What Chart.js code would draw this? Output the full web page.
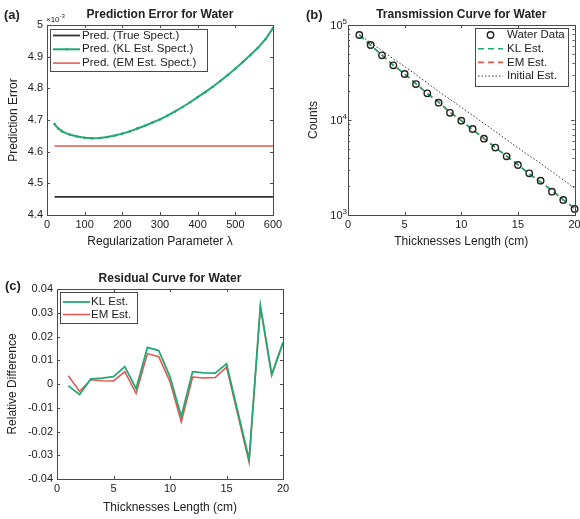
<!DOCTYPE html>
<html>
<head>
<meta charset="utf-8">
<title>Water spectrum estimation</title>
<script src="https://cdn.jsdelivr.net/npm/chart.js@4.4.1/dist/chart.umd.min.js"></script>
<style>
  html, body { margin: 0; padding: 0; background: #fff; }
  body { width: 580px; height: 519px; position: relative; overflow: hidden; }
  canvas { position: absolute; display: block; }
</style>
</head>
<body>
<canvas id="chart-a" width="290" height="260" style="left:0;top:0"></canvas>
<canvas id="chart-b" width="290" height="260" style="left:290px;top:0"></canvas>
<canvas id="chart-c" width="300" height="259" style="left:0;top:260px"></canvas>
<script>
// (a) prediction error (x10^-3) vs regularization parameter
const lambdaValues = [20, 30, 40, 60, 80, 100, 120, 140, 160, 180, 200, 220, 240, 260, 280, 300,
  320, 340, 360, 380, 400, 420, 440, 460, 480, 500, 520, 540, 560, 580, 600];
const predKL = [4.687, 4.673, 4.664, 4.654, 4.648, 4.644, 4.642, 4.643, 4.646, 4.651, 4.657, 4.664,
  4.673, 4.682, 4.692, 4.702, 4.714, 4.727, 4.741, 4.756, 4.772, 4.788, 4.805, 4.823, 4.842, 4.862,
  4.883, 4.905, 4.928, 4.955, 4.990];
const lambdaRange = [20, 600];
const predTrue = [4.457, 4.457];
const predEM = [4.618, 4.618];

// (b) transmission counts vs thickness
const thickness = [1, 2, 3, 4, 5, 6, 7, 8, 9, 10, 11, 12, 13, 14, 15, 16, 17, 18, 19, 20];
const waterData = [78500, 61600, 48000, 37600, 30500, 23900, 19100, 15200, 11900, 9840,
  8040, 6360, 5120, 4150, 3360, 2745, 2300, 1760, 1440, 1157];
const klEstimate = [78400, 61300, 48100, 37700, 30600, 24100, 19050, 15400, 12100, 9870,
  7930, 6390, 5140, 4170, 3390, 2710, 2230, 1820, 1445, 1180];
const emEstimate = [78800, 61400, 48100, 37650, 30540, 24020, 19020, 15390, 12040, 9850,
  7910, 6380, 5130, 4160, 3380, 2710, 2220, 1820, 1445, 1177];
const initialEstimate = [79000, 65000, 54000, 44000, 36500, 30000, 24500, 20000, 16500, 13600,
  11200, 9200, 7600, 6200, 5100, 4200, 3500, 2850, 2350, 1900];

// (c) relative difference between fit and data
const klResidual = [-0.0008, -0.0044, 0.0022, 0.0025, 0.0031, 0.0073, -0.0020, 0.0154, 0.0141, 0.0030,
  -0.0137, 0.0052, 0.0047, 0.0046, 0.0085, -0.0117, -0.0318, 0.0330, 0.0040, 0.0176];
const emResidual = [0.0035, -0.0031, 0.0018, 0.0014, 0.0013, 0.0052, -0.0040, 0.0128, 0.0115, 0.0010,
  -0.0160, 0.0029, 0.0025, 0.0027, 0.0071, -0.0130, -0.0330, 0.0325, 0.0036, 0.0172];

const GREEN = '#22a872';
const RED = '#e2544f';
const INK = '#222';
const AXIS = '#4a4a4a';
const FONT = '"Liberation Sans", Arial, Helvetica, sans-serif';

Chart.defaults.font.family = FONT;
Chart.defaults.color = INK;

const xy = (xs, ys) => xs.map((x, i) => ({ x, y: ys[i] }));

// draws "base" with a small raised exponent, right or left aligned at x
function drawPower(ctx, base, exp, x, y, size, align) {
  ctx.font = size + 'px ' + FONT;
  const bw = ctx.measureText(base).width;
  ctx.font = Math.round(size * 0.72) + 'px ' + FONT;
  const ew = ctx.measureText(exp).width;
  const left = align === 'right' ? x - bw - ew : x;
  ctx.textAlign = 'left';
  ctx.textBaseline = 'middle';
  ctx.font = size + 'px ' + FONT;
  ctx.fillText(base, left, y);
  ctx.font = Math.round(size * 0.72) + 'px ' + FONT;
  ctx.fillText(exp, left + bw, y - size * 0.42);
}

function drawLegend(ctx, chart, lg) {
  ctx.save();
  ctx.fillStyle = '#fff';
  ctx.fillRect(lg.x, lg.y, lg.w, lg.h);
  ctx.strokeStyle = AXIS;
  ctx.lineWidth = 1;
  ctx.strokeRect(lg.x + 0.5, lg.y + 0.5, lg.w, lg.h);
  ctx.font = '11.5px ' + FONT;
  ctx.textBaseline = 'middle';
  ctx.textAlign = 'left';
  chart.data.datasets.forEach((ds, i) => {
    const cy = lg.y + lg.first + i * lg.step;
    const sx0 = lg.x + 3, sx1 = lg.x + lg.sample;
    if (ds.showLine !== false) {
      ctx.save();
      ctx.strokeStyle = ds.borderColor;
      ctx.lineWidth = ds.borderWidth;
      ctx.setLineDash(ds.borderDash || []);
      ctx.beginPath();
      ctx.moveTo(sx0, cy);
      ctx.lineTo(sx1, cy);
      ctx.stroke();
      ctx.restore();
    }
    if (ds.pointRadius) {
      ctx.beginPath();
      ctx.arc((sx0 + sx1) / 2, cy, ds.pointRadius, 0, Math.PI * 2);
      if (ds.showLine === false) {
        ctx.strokeStyle = ds.borderColor;
        ctx.lineWidth = ds.borderWidth;
        ctx.stroke();
      } else {
        ctx.fillStyle = ds.pointBackgroundColor || ds.borderColor;
        ctx.fill();
      }
    }
    ctx.fillStyle = INK;
    ctx.fillText(ds.label, lg.x + lg.text, cy);
  });
  ctx.restore();
}

// MATLAB-like axes: closed box, inward ticks, title, panel letter and legend
const axesFrame = {
  id: 'axesFrame',
  afterDatasetsDraw(chart, args, opts) {
    const { ctx, chartArea: a, scales } = chart;
    const sx = scales.x, sy = scales.y;
    ctx.save();
    ctx.strokeStyle = AXIS;
    ctx.lineWidth = 1;
    ctx.beginPath();
    sx.ticks.forEach(t => {
      const px = Math.round(sx.getPixelForValue(t.value)) + 0.5;
      ctx.moveTo(px, a.bottom); ctx.lineTo(px, a.bottom - 3);
      ctx.moveTo(px, a.top); ctx.lineTo(px, a.top + 3);
    });
    if (sy.type === 'logarithmic') {
      for (let e = Math.log10(sy.min); e < Math.log10(sy.max); e++) {
        for (let k = 1; k < 10; k++) {
          const py = Math.round(sy.getPixelForValue(k * Math.pow(10, e))) + 0.5;
          const len = k === 1 ? 3.5 : 2;
          ctx.moveTo(a.left, py); ctx.lineTo(a.left + len, py);
          ctx.moveTo(a.right, py); ctx.lineTo(a.right - len, py);
        }
      }
    } else {
      sy.ticks.forEach(t => {
        const py = Math.round(sy.getPixelForValue(t.value)) + 0.5;
        ctx.moveTo(a.left, py); ctx.lineTo(a.left + 3, py);
        ctx.moveTo(a.right, py); ctx.lineTo(a.right - 3, py);
      });
    }
    ctx.stroke();
    ctx.strokeRect(Math.round(a.left) + 0.5, Math.round(a.top) + 0.5,
      Math.round(a.right - a.left), Math.round(a.bottom - a.top));

    ctx.fillStyle = INK;
    if (sy.type === 'logarithmic') {
      for (let e = Math.log10(sy.min); e <= Math.log10(sy.max); e++) {
        drawPower(ctx, '10', String(e), a.left - 1, sy.getPixelForValue(Math.pow(10, e)) + 1, 11, 'right');
      }
    }
    if (opts.multiplier) {
      drawPower(ctx, '\u00d710', opts.multiplier, a.left - 1, a.top - 5, 8, 'left');
    }
    ctx.fillStyle = INK;
    ctx.textBaseline = 'middle';
    ctx.textAlign = 'center';
    ctx.font = 'bold 12px ' + FONT;
    ctx.fillText(opts.title, (a.left + a.right) / 2, opts.titleY);
    ctx.textAlign = 'left';
    ctx.font = 'bold 13px ' + FONT;
    ctx.fillText(opts.letter, opts.letterX, opts.letterY);
    ctx.restore();

    drawLegend(ctx, chart, opts.legend);
  }
};

function frameOptions(f, xOpts, yOpts, frame) {
  const tickFont = { size: 11 };
  return {
    responsive: false,
    animation: false,
    events: [],
    layout: { padding: { left: 0, top: f.top, right: f.W - f.right, bottom: 0 } },
    plugins: {
      legend: { display: false },
      tooltip: { enabled: false },
      axesFrame: frame
    },
    scales: {
      x: Object.assign({
        type: 'linear',
        grid: { display: false, drawTicks: false },
        border: { display: false },
        afterFit(s) { s.height = f.H - f.bottom; s.paddingLeft = 0; s.paddingRight = 0; }
      }, xOpts, {
        ticks: Object.assign({ font: tickFont, padding: 3, maxRotation: 0, autoSkip: false }, xOpts.ticks),
        title: Object.assign({ display: true, font: { size: 12 } }, xOpts.title)
      }),
      y: Object.assign({
        type: 'linear',
        grid: { display: false, drawTicks: false },
        border: { display: false },
        afterFit(s) { s.width = f.left; s.paddingTop = 0; s.paddingBottom = 0; }
      }, yOpts, {
        ticks: Object.assign({ font: tickFont, padding: 4, autoSkip: false }, yOpts.ticks),
        title: Object.assign({ display: true, font: { size: 12 } }, yOpts.title)
      })
    }
  };
}

// (a)
new Chart(document.getElementById('chart-a'), {
  type: 'line',
  data: {
    datasets: [
      { label: 'Pred. (True Spect.)', data: xy(lambdaRange, predTrue), borderColor: '#333',
        borderWidth: 1.8, pointRadius: 0 },
      { label: 'Pred. (KL Est. Spect.)', data: xy(lambdaValues, predKL), borderColor: GREEN,
        borderWidth: 2, pointRadius: 1.3, pointBorderWidth: 0, pointBackgroundColor: GREEN },
      { label: 'Pred. (EM Est. Spect.)', data: xy(lambdaRange, predEM), borderColor: RED,
        borderWidth: 1.5, pointRadius: 0 }
    ]
  },
  options: frameOptions(
    { W: 290, H: 260, left: 47, top: 25, right: 273, bottom: 215 },
    { min: 0, max: 600, ticks: { stepSize: 100 },
      title: { text: 'Regularization Parameter \u03bb', padding: { top: 0, bottom: 11 } } },
    { min: 4.4, max: 5, ticks: { stepSize: 0.1, callback: v => String(parseFloat(v.toFixed(1))) },
      title: { text: 'Prediction Error', padding: { top: 6, bottom: 0 } } },
    { title: 'Prediction Error for Water', titleY: 15, letter: '(a)', letterX: 4, letterY: 15,
      multiplier: '-3',
      legend: { x: 50, y: 29, w: 157, h: 42, first: 6.5, step: 13.8, sample: 30, text: 32 } }
  ),
  plugins: [axesFrame]
});

// (b)
new Chart(document.getElementById('chart-b'), {
  type: 'line',
  data: {
    datasets: [
      { label: 'Water Data', data: xy(thickness, waterData), showLine: false, pointStyle: 'circle',
        pointRadius: 3.2, borderColor: '#222', borderWidth: 1.4, pointBorderColor: '#222',
        pointBackgroundColor: 'rgba(0,0,0,0)', pointBorderWidth: 1.4, clip: 8 },
      { label: 'KL Est.', data: xy(thickness, klEstimate), borderColor: GREEN, borderWidth: 1.6,
        borderDash: [6, 4], pointRadius: 0 },
      { label: 'EM Est.', data: xy(thickness, emEstimate), borderColor: RED, borderWidth: 1.6,
        borderDash: [6, 4], pointRadius: 0 },
      { label: 'Initial Est.', data: xy(thickness, initialEstimate), borderColor: '#333', borderWidth: 1,
        borderDash: [1.5, 2], pointRadius: 0 }
    ]
  },
  options: frameOptions(
    { W: 290, H: 260, left: 58, top: 25, right: 285, bottom: 215 },
    { min: 0, max: 20, ticks: { stepSize: 5 },
      title: { text: 'Thicknesses Length (cm)', padding: { top: 0, bottom: 11 } } },
    { type: 'logarithmic', min: 1000, max: 100000, ticks: { callback: () => '' },
      title: { text: 'Counts', padding: { top: 16, bottom: 0 } } },
    { title: 'Transmission Curve for Water', titleY: 15, letter: '(b)', letterX: 16, letterY: 15,
      legend: { x: 185, y: 28, w: 93, h: 58, first: 7, step: 13.7, sample: 28, text: 32 } }
  ),
  plugins: [axesFrame]
});

// (c)
new Chart(document.getElementById('chart-c'), {
  type: 'line',
  data: {
    datasets: [
      { label: 'KL Est.', data: xy(thickness, klResidual), borderColor: GREEN, borderWidth: 1.8, pointRadius: 0 },
      { label: 'EM Est.', data: xy(thickness, emResidual), borderColor: RED, borderWidth: 1.5, pointRadius: 0 }
    ]
  },
  options: frameOptions(
    { W: 300, H: 259, left: 57, top: 29, right: 283, bottom: 219 },
    { min: 0, max: 20, ticks: { stepSize: 5 },
      title: { text: 'Thicknesses Length (cm)', padding: { top: 0, bottom: 4 } } },
    { min: -0.04, max: 0.04, ticks: { stepSize: 0.01, callback: v => String(parseFloat(v.toFixed(2))) },
      title: { text: 'Relative Difference', padding: { top: 5, bottom: 0 } } },
    { title: 'Residual Curve for Water', titleY: 19, letter: '(c)', letterX: 5, letterY: 26,
      legend: { x: 60, y: 32, w: 77, h: 31, first: 10, step: 12.5, sample: 30, text: 31 } }
  ),
  plugins: [axesFrame]
});
</script>
</body>
</html>
